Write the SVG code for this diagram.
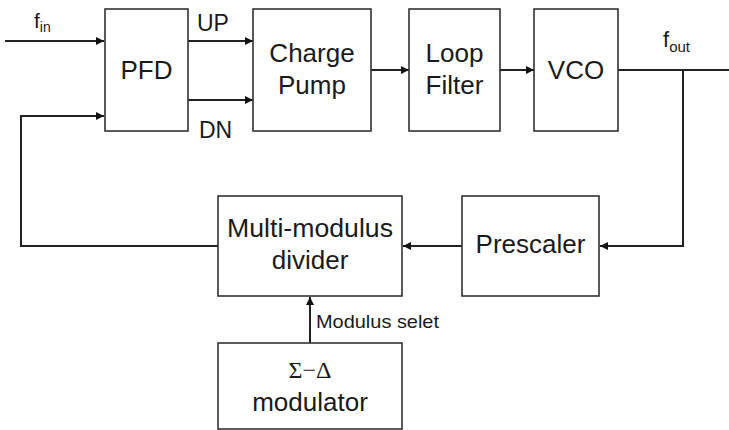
<svg xmlns="http://www.w3.org/2000/svg" width="729" height="430" viewBox="0 0 729 430">
<style>
.box{fill:#fff;stroke:#333;stroke-width:1.6}
.ln{fill:none;stroke:#222;stroke-width:2}
.t{font-family:"Liberation Sans",Arial,sans-serif;font-size:26px;fill:#1a1a1a;text-anchor:middle}
.s{font-family:"Liberation Sans",Arial,sans-serif;fill:#1a1a1a}
</style>
<defs>
<marker id="ah" markerWidth="8" markerHeight="8" refX="8" refY="4" orient="auto" markerUnits="userSpaceOnUse">
<path d="M0,0 L8,4 L0,8 Z" fill="#111"/>
</marker>
</defs>
<rect width="729" height="430" fill="#fff"/>
<g id="connectors">
<line class="ln" x1="5" y1="41" x2="104" y2="41" marker-end="url(#ah)"/>
<polyline class="ln" points="218,246 21,246 21,116 104,116" marker-end="url(#ah)"/>
<line class="ln" x1="188" y1="41" x2="253" y2="41" marker-end="url(#ah)"/>
<line class="ln" x1="188" y1="100" x2="253" y2="100" marker-end="url(#ah)"/>
<line class="ln" x1="371" y1="70" x2="409" y2="70" marker-end="url(#ah)"/>
<line class="ln" x1="500" y1="70" x2="534" y2="70" marker-end="url(#ah)"/>
<line class="ln" x1="618" y1="70" x2="729" y2="70"/>
<polyline class="ln" points="683,70 683,246 600,246" marker-end="url(#ah)"/>
<line class="ln" x1="462" y1="246" x2="403" y2="246" marker-end="url(#ah)"/>
<line class="ln" x1="310" y1="343" x2="310" y2="297" marker-end="url(#ah)"/>
<text class="s" x="34" y="28" font-size="21">f<tspan font-size="14" dy="4">in</tspan></text>
<text class="s" x="197" y="31" font-size="23">UP</text>
<text class="s" x="199" y="138" font-size="23">DN</text>
<text class="s" x="663" y="47" font-size="22">f<tspan font-size="15" dy="5">out</tspan></text>
<text class="s" x="316" y="328" font-size="19" textLength="123" lengthAdjust="spacingAndGlyphs">Modulus selet</text>
</g>
<g id="pfd"><rect class="box" x="105" y="9" width="83" height="122"/><text class="t" x="146.5" y="79">PFD</text></g>
<g id="cp"><rect class="box" x="253" y="9" width="118" height="122"/><text class="t" x="312" y="62">Charge</text><text class="t" x="312" y="94">Pump</text></g>
<g id="lf"><rect class="box" x="409" y="9" width="91" height="122"/><text class="t" x="454.5" y="62">Loop</text><text class="t" x="454.5" y="94">Filter</text></g>
<g id="vco"><rect class="box" x="534" y="9" width="84" height="122"/><text class="t" x="576" y="79">VCO</text></g>
<g id="mmd"><rect class="box" x="218" y="196" width="184" height="100"/><text class="t" x="310" y="237" textLength="166" lengthAdjust="spacingAndGlyphs">Multi-modulus</text><text class="t" x="310" y="269">divider</text></g>
<g id="pre"><rect class="box" x="462" y="196" width="137" height="100"/><text class="t" x="530.5" y="253">Prescaler</text></g>
<g id="sdm"><rect class="box" x="218" y="343" width="184" height="86"/><text x="310" y="378" font-family="'Liberation Serif','Times New Roman',serif" font-size="24" fill="#1a1a1a" text-anchor="middle">Σ−Δ</text><text class="t" x="310" y="411">modulator</text></g>
</svg>
